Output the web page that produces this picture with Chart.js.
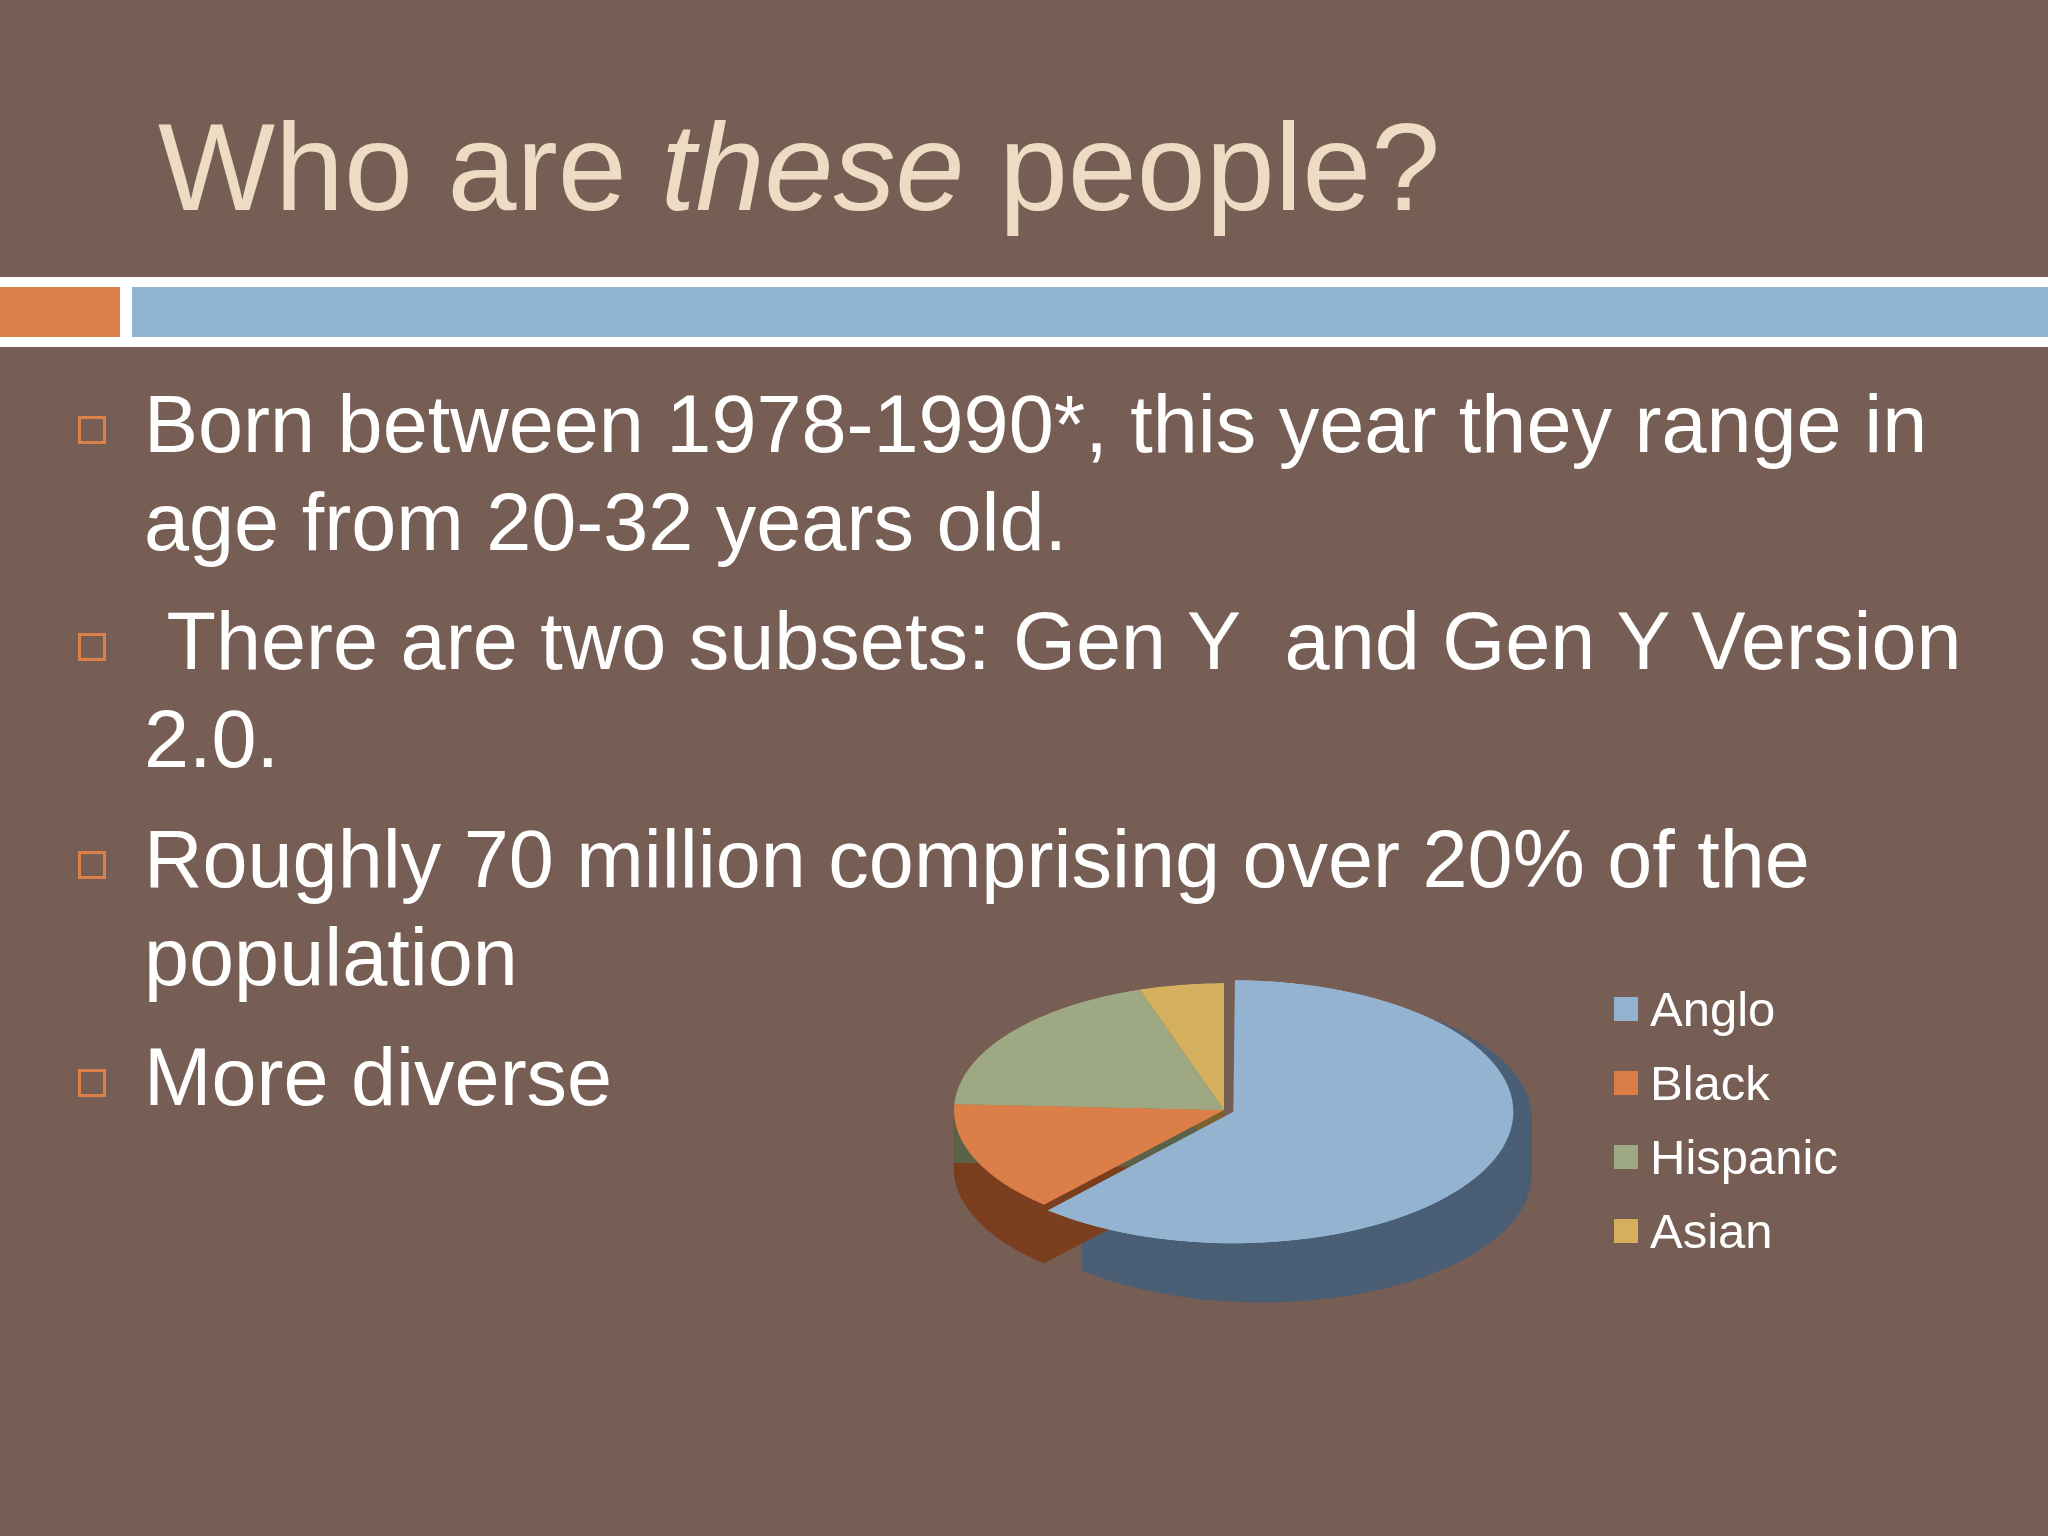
<!DOCTYPE html>
<html><head><meta charset="utf-8">
<script src="https://cdn.jsdelivr.net/npm/chart.js@4/dist/chart.umd.min.js"></script>
<style>
html,body{margin:0;padding:0;}
body{width:2048px;height:1536px;background:#775e54;position:relative;overflow:hidden;font-family:"Liberation Sans",Arial,sans-serif;}
#title{position:absolute;left:158px;top:96px;font-size:124px;color:#eddcc3;white-space:nowrap;}
#band{position:absolute;left:0;top:277px;width:2048px;height:70px;background:#fff;}
#orange{position:absolute;left:0;top:287px;width:120px;height:50px;background:#dc804a;}
#blue{position:absolute;left:132px;top:287px;width:1916px;height:50px;background:#92b5d1;}
.b{position:absolute;left:144px;font-size:81px;color:#fff;line-height:98px;white-space:nowrap;}
.sq{position:absolute;left:78px;width:28px;height:28px;border:3px solid #dc804a;box-sizing:border-box;}
#pieWrap{position:absolute;left:874px;top:763px;width:700px;height:760px;transform:scaleY(0.47);transform-origin:center center;}
#legend{position:absolute;left:1614px;top:972px;}
.li{height:74px;display:flex;align-items:center;font-size:49px;color:#fff;}
.li span.box{width:24px;height:24px;margin-right:12px;display:inline-block;}
</style></head><body>
<div id="title">Who are <i>these</i> people?</div>
<div id="band"></div><div id="orange"></div><div id="blue"></div>
<div class="sq" style="top:416px"></div>
<div class="b" style="top:375px">Born between 1978-1990*, this year they range in<br>age from 20-32 years old.</div>
<div class="sq" style="top:633px"></div>
<div class="b" style="top:592px">&nbsp;There are two subsets: Gen Y &nbsp;and Gen Y Version<br>2.0.</div>
<div class="sq" style="top:851px"></div>
<div class="b" style="top:810px">Roughly 70 million comprising over 20% of the<br>population</div>
<div class="sq" style="top:1069px"></div>
<div class="b" style="top:1028px">More diverse</div>
<div id="pieWrap"><canvas id="c" width="700" height="760"></canvas></div>
<div id="legend"></div>
<script>
const categories=["Anglo","Black","Hispanic","Asian"];
const values=[61,14,19,5];
const colors=["#93b3d0","#dc7e48","#9ea882","#d4b05e"];
const sideColors=["#4a5f75","#7a3f1e","#5c6248","#7a6330"];
const depthPlugin={id:"depth",beforeDatasetsDraw(chart){
  const ctx=chart.ctx;const meta=chart.getDatasetMeta(0);
  const depth=125;
  meta.data.forEach((a,i)=>{
    const p=a.getProps(["x","y","startAngle","endAngle","outerRadius"],true);
    const off=(chart.data.datasets[0].offset||[])[i]||0;
    const mid=(p.startAngle+p.endAngle)/2;
    const ox=Math.cos(mid)*off, oy=Math.sin(mid)*off;
    for(let d=depth;d>0;d-=2){
      ctx.beginPath();ctx.moveTo(p.x+ox,p.y+oy+d);
      ctx.arc(p.x+ox,p.y+oy+d,p.outerRadius,p.startAngle,p.endAngle);
      ctx.closePath();ctx.fillStyle=sideColors[i];ctx.fill();
    }
  });
}};
new Chart(document.getElementById("c"),{type:"pie",
 data:{labels:categories,datasets:[{data:values,backgroundColor:colors,borderWidth:0,offset:[40,0,0,0]}]},
 options:{responsive:false,animation:false,layout:{padding:{top:20,left:60,right:60,bottom:160}},
  plugins:{legend:{display:false},tooltip:{enabled:false}}},
 plugins:[depthPlugin]});
const lg=document.getElementById("legend");
categories.forEach((c,i)=>{const d=document.createElement("div");d.className="li";
 d.innerHTML='<span class="box" style="background:'+colors[i]+'"></span>'+c;lg.appendChild(d);});
</script>
</body></html>
